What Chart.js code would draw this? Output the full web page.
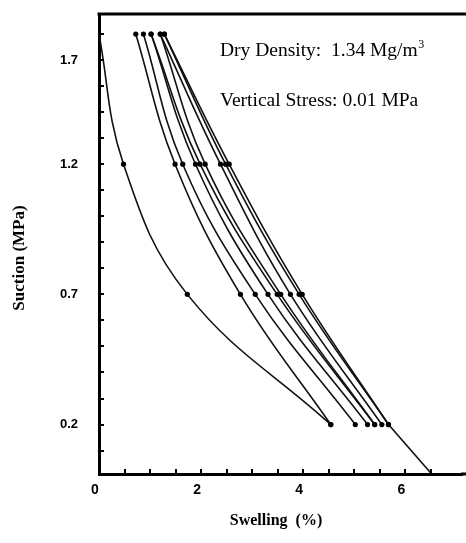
<!DOCTYPE html>
<html>
<head>
<meta charset="utf-8">
<script src="https://cdn.jsdelivr.net/npm/chart.js@4.4.1/dist/chart.umd.min.js"></script>
<style>
  html, body { margin: 0; padding: 0; background: #fff; }
  canvas { display: block; }
</style>
</head>
<body>
<canvas id="c" width="466" height="543"></canvas>
<script>
// ---- Data (swelling % at each suction level, MPa) ----
const suctionLevels = [1.7, 1.2, 0.7, 0.2];
const curveL = [0.00, 0.48, 1.73, 4.54];
const curve1 = [0.72, 1.49, 2.77, 4.54];
const curve2 = [0.87, 1.64, 3.06, 5.02];
const curve3 = [1.02, 1.89, 3.31, 5.26];
const curve4 = [1.02, 1.98, 3.49, 5.40];
const curve5 = [1.20, 2.08, 3.56, 5.40];
const curve6 = [1.20, 2.38, 3.75, 5.54];
const curve7 = [1.28, 2.48, 3.92, 5.67];
const curve8 = [1.28, 2.55, 3.98, 5.67];
// final path from 0.2 MPa down to zero suction
const tailSuction = [0.2, 0.0];
const tailSwelling = [5.67, 6.56];

// tick labels as printed in the reference
const xTickLabelValues = [0, 2, 4, 6];
const yTickLabelValues = [0.2, 0.7, 1.2, 1.6];   // the reference prints "1.7" beside the 1.6 tick
const yTickLabels = ['0.2', '0.7', '1.2', '1.7'];

const curves = [curveL, curve1, curve2, curve3, curve4, curve5, curve6, curve7, curve8];

function toPoints(xs, ys) { return xs.map((x, i) => ({ x: x, y: ys[i] })); }

const datasets = curves.map((c, k) => ({
  data: toPoints(c, suctionLevels),
  showLine: true,
  borderColor: '#111',
  borderWidth: 1.6,
  backgroundColor: '#000',
  pointBackgroundColor: '#000',
  pointBorderColor: '#000',
  pointBorderWidth: 0,
  pointRadius: k === 0 ? [0, 2.6, 2.6, 2.6] : 2.6,
  tension: 0.4,
  fill: false
}));
datasets.push({
  data: toPoints(tailSwelling, tailSuction),
  showLine: true,
  borderColor: '#111',
  borderWidth: 1.6,
  pointRadius: 0,
  fill: false
});

const near = (a, b) => Math.abs(a - b) < 1e-6;

const decorPlugin = {
  id: 'decor',
  afterDraw(chart) {
    const ctx = chart.ctx;
    const ca = chart.chartArea;
    const xs = chart.scales.x, ys = chart.scales.y;
    ctx.save();
    // top frame line and continuation of the bottom axis to the page edge
    ctx.strokeStyle = '#000';
    ctx.lineWidth = 3;
    ctx.beginPath();
    ctx.moveTo(ca.left - 1.5, ca.top);
    ctx.lineTo(chart.width, ca.top);
    ctx.moveTo(ca.right - 1, ca.bottom);
    ctx.lineTo(chart.width, ca.bottom);
    ctx.stroke();
    // inward tick marks
    ctx.lineWidth = 2;
    xs.ticks.forEach(t => {
      if (t.value <= 0 || t.value > 7.01) return;
      const px = Math.round(xs.getPixelForValue(t.value));
      ctx.beginPath();
      ctx.moveTo(px, ca.bottom);
      ctx.lineTo(px, ca.bottom - 5);
      ctx.stroke();
    });
    ys.ticks.forEach(t => {
      if (t.value < 0.05 || t.value > 1.71) return;
      const py = Math.round(ys.getPixelForValue(t.value));
      ctx.beginPath();
      ctx.moveTo(ca.left, py);
      ctx.lineTo(ca.left + 5, py);
      ctx.stroke();
    });
    // annotation text
    ctx.fillStyle = '#000';
    ctx.textBaseline = 'alphabetic';
    ctx.textAlign = 'left';
    const big = '19.5px "Liberation Serif", "Times New Roman", serif';
    ctx.font = big;
    const tx = 220;
    const y1 = ys.getPixelForValue(1.614);
    const y2 = ys.getPixelForValue(1.425);
    const s1 = 'Dry Density:  1.34 Mg/m';
    ctx.fillText(s1, tx, y1);
    const w1 = ctx.measureText(s1).width;
    ctx.font = '12px "Liberation Serif", "Times New Roman", serif';
    ctx.fillText('3', tx + w1 + 0.5, y1 - 8);
    ctx.font = big;
    ctx.fillText('Vertical Stress: 0.01 MPa', tx, y2);
    // axis titles
    ctx.font = 'bold 16px "Liberation Serif", "Times New Roman", serif';
    ctx.textAlign = 'center';
    ctx.textBaseline = 'middle';
    ctx.fillText('Swelling  (%)', 276, 521);
    ctx.translate(20, 258);
    ctx.rotate(-Math.PI / 2);
    ctx.font = 'bold 17px "Liberation Serif", "Times New Roman", serif';
    ctx.fillText('Suction (MPa)', 0, 0);
    ctx.restore();
  }
};

new Chart(document.getElementById('c'), {
  type: 'scatter',
  data: { datasets: datasets },
  options: {
    responsive: false,
    animation: false,
    layout: { padding: { top: 14, right: 0, left: 0, bottom: 0 } },
    plugins: { legend: { display: false }, tooltip: { enabled: false } },
    elements: { line: { borderCapStyle: 'round' } },
    scales: {
      x: {
        type: 'linear',
        position: 'bottom',
        min: 0,
        max: 7.11,
        grid: { display: true, drawOnChartArea: false, drawTicks: false },
        border: { display: true, width: 3, color: '#000' },
        ticks: {
          stepSize: 0.5,
          autoSkip: false,
          maxRotation: 0,
          padding: 8,
          labelOffset: -4,
          color: '#000',
          font: { family: '"Liberation Sans", Arial, sans-serif', size: 14, weight: 'bold' },
          callback: v => xTickLabelValues.some(t => near(t, v)) ? String(Math.round(v)) : ''
        },
        afterFit: s => { s.height = 69; s.paddingLeft = 0; s.paddingRight = 0; }
      },
      y: {
        type: 'linear',
        min: 0.01,
        max: 1.777,
        grid: { display: true, drawOnChartArea: false, drawTicks: false },
        border: { display: true, width: 3, color: '#000' },
        ticks: {
          stepSize: 0.1,
          autoSkip: false,
          padding: 21,
          color: '#000',
          font: { family: '"Liberation Sans", Arial, sans-serif', size: 13, weight: 'bold' },
          callback: v => {
            const i = yTickLabelValues.findIndex(t => near(t, v));
            return i >= 0 ? yTickLabels[i] : '';
          }
        },
        afterFit: s => { s.width = 99; s.paddingTop = 0; s.paddingBottom = 0; }
      }
    }
  },
  plugins: [decorPlugin]
});
</script>
</body>
</html>
